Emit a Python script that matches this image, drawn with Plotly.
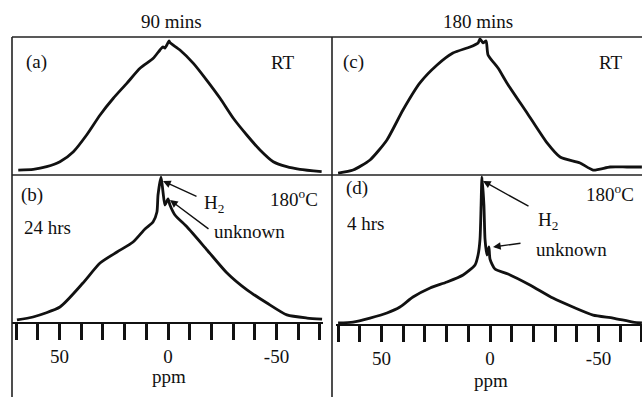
import plotly.graph_objects as go

# ---------------- data (ppm, intensity) ----------------
a_ppm = [69.0, 62.1, 55.9, 49.8, 43.6, 37.5, 31.3, 25.2, 19.0, 12.9, 6.8, 3.7, 2.3, 1.4, -0.5, -0.9,
         -5.5, -11.7, -17.8, -24.0, -30.1, -36.3, -42.4, -48.5, -54.7, -60.8, -70.8]
a_int = [3.6, 4.1, 6.0, 9.6, 16.9, 29.0, 43.5, 55.6, 66.4, 77.3, 84.6, 90.6, 92.8, 92.0, 97.1, 95.9,
         90.6, 80.9, 68.8, 55.6, 41.1, 29.0, 18.1, 9.6, 6.0, 4.1, 2.4]

b_ppm = [69.6, 62.2, 49.8, 39.2, 31.3, 23.5, 16.1, 10.6, 6.9, 5.1, 4.6, 3.2, 2.3, 1.4, 0.0, -0.9,
         -3.2, -8.8, -18.0, -27.2, -36.4, -45.6, -54.8, -64.1, -71.0]
b_int = [1.4, 3.4, 10.2, 26.5, 40.1, 47.6, 54.4, 63.3, 68.0, 74.8, 86.4, 98.6, 88.4, 79.6, 83.7, 79.6,
         72.8, 64.6, 49.0, 33.3, 21.8, 12.9, 4.8, 2.7, 2.0]

c_ppm = [70.0, 63.1, 55.3, 47.5, 40.1, 32.3, 24.4, 17.1, 9.2, 5.5, 4.6, 3.2, 1.8, 0.9, -3.7, -7.8,
         -17.1, -26.3, -32.3, -41.5, -47.5, -55.3, -63.1, -70.0]
c_int = [1.4, 3.6, 10.9, 25.4, 47.1, 66.7, 79.7, 88.4, 92.8, 95.7, 98.6, 95.7, 97.1, 87.0, 77.5, 66.7,
         44.9, 23.2, 13.0, 8.7, 3.6, 5.8, 5.8, 5.8]

d_ppm = [70.0, 63.1, 55.3, 47.5, 41.5, 35.5, 27.6, 19.8, 12.4, 6.9, 5.5, 4.6, 4.1, 3.7, 2.8, 2.3, 1.4,
         0.5, 0.0, -2.3, -8.3, -18.4, -29.0, -38.2, -47.5, -56.7, -65.9, -70.0]
d_int = [0.7, 1.3, 4.0, 7.4, 11.4, 18.1, 24.2, 28.2, 32.9, 39.6, 46.3, 57.0, 79.9, 98.7, 79.9, 57.0, 46.3,
         51.7, 43.6, 36.9, 33.6, 26.2, 17.4, 11.4, 6.0, 4.0, 1.3, 0.7]

tick_vals = [70, 60, 50, 40, 30, 20, 10, 0, -10, -20, -30, -40, -50, -60, -70]
tick_text = ["", "", "50", "", "", "", "", "0", "", "", "", "", "-50", "", ""]

col_titles = ["90 mins", "180 mins"]

# ---------------- layout helpers ----------------
W, H = 642, 397
FONT = "Liberation Serif"
INK = "#111111"


def px(x):
    return x / W


def py(y):
    return 1 - y / H


fig = go.Figure()
line = dict(color=INK, width=2.8, shape="spline", smoothing=0.6)
fig.add_trace(go.Scatter(x=a_ppm, y=a_int, mode="lines", line=line, xaxis="x", yaxis="y", showlegend=False))
fig.add_trace(go.Scatter(x=b_ppm, y=b_int, mode="lines", line=line, xaxis="x2", yaxis="y2", showlegend=False))
fig.add_trace(go.Scatter(x=c_ppm, y=c_int, mode="lines", line=line, xaxis="x3", yaxis="y3", showlegend=False))
fig.add_trace(go.Scatter(x=d_ppm, y=d_int, mode="lines", line=line, xaxis="x4", yaxis="y4", showlegend=False))

left_dom = [px(12), px(323)]
left_rng = [(168 - 12) / 2.17, (168 - 323) / 2.17]
right_dom = [px(336), 1.0]
right_rng = [(490 - 336) / 2.17, (490 - 642) / 2.17]

top_dom = [py(175), py(37)]
botL_dom = [py(322), py(175)]
botR_dom = [py(324), py(175)]

hidden = dict(visible=False, showgrid=False, zeroline=False, fixedrange=True)
tick_axis = dict(
    showgrid=False, zeroline=False, showline=True, linecolor=INK, linewidth=2,
    ticks="outside", ticklen=16, tickwidth=2.6, tickcolor=INK,
    tickmode="array", tickvals=tick_vals, ticktext=tick_text,
    tickfont=dict(family=FONT, size=19, color=INK),
)

fig.update_layout(
    width=W, height=H, margin=dict(l=0, r=0, t=0, b=0),
    paper_bgcolor="white", plot_bgcolor="white",
    font=dict(family=FONT, size=19, color=INK),
    xaxis=dict(domain=left_dom, range=left_rng, anchor="y", **hidden),
    yaxis=dict(domain=top_dom, range=[0, 100], anchor="x", **hidden),
    xaxis2=dict(domain=left_dom, range=left_rng, anchor="y2", **tick_axis),
    yaxis2=dict(domain=botL_dom, range=[0, 100], anchor="x2", **hidden),
    xaxis3=dict(domain=right_dom, range=right_rng, anchor="y3", **hidden),
    yaxis3=dict(domain=top_dom, range=[0, 100], anchor="x3", **hidden),
    xaxis4=dict(domain=right_dom, range=right_rng, anchor="y4", **tick_axis),
    yaxis4=dict(domain=botR_dom, range=[0, 100], anchor="x4", **hidden),
)

# frame lines
frame = dict(color="#222222", width=1.6)
shapes = [
    dict(type="line", xref="paper", yref="paper", x0=px(12), x1=1.0, y0=py(37), y1=py(37), line=frame),
    dict(type="line", xref="paper", yref="paper", x0=px(12), x1=1.0, y0=py(175), y1=py(175), line=frame),
    dict(type="line", xref="paper", yref="paper", x0=px(12), x1=px(12), y0=py(37), y1=0, line=frame),
    dict(type="line", xref="paper", yref="paper", x0=px(332), x1=px(332), y0=py(37), y1=0, line=frame),
]
fig.update_layout(shapes=shapes)

ann = []


def text(t, x, y, xanchor="center"):
    ann.append(dict(text=t, x=px(x), y=py(y), xref="paper", yref="paper", showarrow=False,
                    xanchor=xanchor, yanchor="middle", font=dict(family=FONT, size=19, color=INK)))


def arrow(tail, tip):
    ann.append(dict(text="", x=px(tip[0]), y=py(tip[1]), xref="paper", yref="paper", showarrow=True,
                    ax=tail[0] - tip[0], ay=tail[1] - tip[1], axref="pixel", ayref="pixel",
                    arrowhead=2, arrowsize=1.1, arrowwidth=1.4, arrowcolor=INK, standoff=0))


text(col_titles[0], 172, 22)
text(col_titles[1], 478, 22)
text("(a)", 36, 62)
text("RT", 283, 62)
text("(c)", 354, 62)
text("RT", 611, 62)
text("(b)", 32, 195)
text("24 hrs", 48, 227)
text("180<sup>o</sup>C", 294, 198)
text("H<sub>2</sub>", 202, 204, xanchor="left")
text("unknown", 249, 231)
text("(d)", 357, 188)
text("4 hrs", 366, 223)
text("180<sup>o</sup>C", 610, 193)
text("H<sub>2</sub>", 536, 221, xanchor="left")
text("unknown", 571, 250)
text("ppm", 169, 376)
text("ppm", 491, 380)
arrow((198, 197), (163, 181))
arrow((210, 230), (170, 200))
arrow((530, 207), (483, 181))
arrow((522, 243), (493, 247))
fig.update_layout(annotations=ann)

fig.write_html("out.html")
